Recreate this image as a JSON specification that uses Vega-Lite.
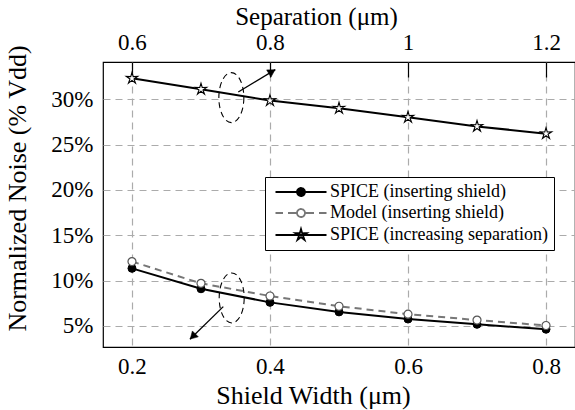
{
  "$schema": "https://vega.github.io/schema/vega-lite/v6.json",
  "width": 472,
  "height": 285,
  "autosize": {"type": "none"},
  "padding": {"left": 103, "top": 62, "right": 0, "bottom": 63},
  "config": {
    "font": "Liberation Serif",
    "view": {"stroke": "black", "strokeWidth": 1.2},
    "axis": {
      "labelFont": "Liberation Serif", "titleFont": "Liberation Serif",
      "labelFontSize": 23, "titleFontSize": 26, "titleFontWeight": "normal",
      "labelColor": "black", "titleColor": "black", "domain": false,
      "gridColor": "#ababab", "gridDash": [7, 5], "gridWidth": 1.2, "gridOpacity": 1
    }
  },
  "datasets": {
    "shield": [
      {"w": 0.2, "y": 11.35, "s": "SPICE (inserting shield)"},
      {"w": 0.3, "y": 9.1, "s": "SPICE (inserting shield)"},
      {"w": 0.4, "y": 7.6, "s": "SPICE (inserting shield)"},
      {"w": 0.5, "y": 6.55, "s": "SPICE (inserting shield)"},
      {"w": 0.6, "y": 5.76, "s": "SPICE (inserting shield)"},
      {"w": 0.7, "y": 5.18, "s": "SPICE (inserting shield)"},
      {"w": 0.8, "y": 4.64, "s": "SPICE (inserting shield)"},
      {"w": 0.2, "y": 12.1, "s": "Model (inserting shield)"},
      {"w": 0.3, "y": 9.7, "s": "Model (inserting shield)"},
      {"w": 0.4, "y": 8.3, "s": "Model (inserting shield)"},
      {"w": 0.5, "y": 7.17, "s": "Model (inserting shield)"},
      {"w": 0.6, "y": 6.3, "s": "Model (inserting shield)"},
      {"w": 0.7, "y": 5.65, "s": "Model (inserting shield)"},
      {"w": 0.8, "y": 5.05, "s": "Model (inserting shield)"}
    ],
    "sep": [
      {"sep": 0.6, "y": 32.3, "s": "SPICE (increasing separation)"},
      {"sep": 0.7, "y": 31.1, "s": "SPICE (increasing separation)"},
      {"sep": 0.8, "y": 29.85, "s": "SPICE (increasing separation)"},
      {"sep": 0.9, "y": 29.0, "s": "SPICE (increasing separation)"},
      {"sep": 1.0, "y": 28.0, "s": "SPICE (increasing separation)"},
      {"sep": 1.1, "y": 27.0, "s": "SPICE (increasing separation)"},
      {"sep": 1.2, "y": 26.2, "s": "SPICE (increasing separation)"}
    ],
    "ellipseA": [{"w": 0.3445, "y": 8.09}],
    "arrowA": [{"w": 0.3323, "y": 7.13, "w2": 0.284, "y2": 3.53}],
    "headA": [{"w": 0.2881, "y": 3.84}],
    "ellipseB": [{"sep": 0.744, "y": 30.17}],
    "arrowB": [{"sep": 0.754, "y": 30.79, "sep2": 0.8077, "y2": 33.26}],
    "headB": [{"sep": 0.8028, "y": 33.04}]
  },
  "encoding": {
    "y": {
      "field": "y", "type": "quantitative",
      "scale": {"domain": [2.68, 34.1], "nice": false, "zero": false},
      "axis": {
        "values": [5, 10, 15, 20, 25, 30],
        "labelExpr": "datum.value + '%'",
        "labelFont": "Liberation Serif", "titleFont": "Liberation Serif",
        "labelFontSize": 23, "titleFontSize": 26, "titleFontWeight": "normal",
        "ticks": false, "labelPadding": 10, "grid": true,
        "title": "Normalized Noise (% Vdd)", "titlePadding": 20, "titleY": 126
      }
    }
  },
  "layer": [
    {
      "encoding": {
        "x": {
          "field": "w", "type": "quantitative",
          "scale": {"domain": [0.158, 0.842], "nice": false, "zero": false},
          "axis": {
            "orient": "bottom", "values": [0.2, 0.4, 0.6, 0.8], "format": ".1f",
            "labelFont": "Liberation Serif", "titleFont": "Liberation Serif",
            "labelFontSize": 23, "titleFontSize": 26, "titleFontWeight": "normal",
            "ticks": false, "labelPadding": 8, "grid": true,
            "title": "Shield Width (μm)", "titlePadding": 4, "titleX": 210
          }
        }
      },
      "layer": [
        {
          "data": {"name": "shield"},
          "transform": [{"filter": "datum.s == 'SPICE (inserting shield)'"}],
          "mark": {"type": "line", "strokeWidth": 2},
          "encoding": {
            "color": {
              "field": "s", "type": "nominal",
              "scale": {
                "domain": ["SPICE (inserting shield)", "Model (inserting shield)", "SPICE (increasing separation)"],
                "range": ["black", "#777777", "black"]
              },
              "legend": {
                "title": null, "orient": "none", "legendX": 162, "legendY": 115,
                "strokeColor": "black", "fillColor": "white", "padding": 6, "cornerRadius": 0,
                "labelFont": "Liberation Serif", "labelFontSize": 18, "labelColor": "black", "labelLimit": 400,
                "symbolSize": 100, "symbolOffset": 21, "labelOffset": 20, "rowPadding": 3,
                "symbolStrokeWidth": 1.8,
                "encode": {
                  "symbols": {
                    "update": {
                      "shape": {"signal": "datum.value == 'SPICE (increasing separation)' ? 'M-5.1,0H5.1M0,-1.2L0.247,-0.34L1.141,-0.371L0.4,0.13L0.706,0.971L0,0.42L-0.706,0.971L-0.4,0.13L-1.141,-0.371L-0.247,-0.34Z' : datum.value == 'Model (inserting shield)' ? 'M-5.1,0H-3.6M-2.6,0H-0.8M0.8,0H2.6M3.6,0H5.1M0.8,0A0.8,0.8,0,1,1,-0.8,0A0.8,0.8,0,1,1,0.8,0Z' : 'M-5.1,0H5.1M0.8,0A0.8,0.8,0,1,1,-0.8,0A0.8,0.8,0,1,1,0.8,0Z'"},
                      "fill": {"signal": "datum.value == 'SPICE (inserting shield)' ? 'black' : datum.value == 'Model (inserting shield)' ? 'white' : 'transparent'"},
                      "stroke": {"signal": "datum.value == 'Model (inserting shield)' ? '#666666' : 'black'"},
                      "strokeDash": {"value": [1, 0]},
                      "opacity": {"value": 1}
                    }
                  }
                }
              }
            }
          }
        },
        {
          "data": {"name": "shield"},
          "transform": [{"filter": "datum.s == 'SPICE (inserting shield)'"}],
          "mark": {"type": "point", "shape": "circle", "size": 64, "filled": true, "fill": "black", "stroke": "black", "strokeWidth": 1, "opacity": 1}
        },
        {
          "data": {"name": "shield"},
          "transform": [{"filter": "datum.s == 'Model (inserting shield)'"}],
          "mark": {"type": "line", "strokeWidth": 2, "color": "#777777", "strokeDash": [7, 5]}
        },
        {
          "data": {"name": "shield"},
          "transform": [{"filter": "datum.s == 'Model (inserting shield)'"}],
          "mark": {"type": "point", "shape": "circle", "size": 64, "filled": true, "fill": "white", "stroke": "#555555", "strokeWidth": 1.2, "opacity": 1}
        },
        {
          "data": {"name": "ellipseA"},
          "mark": {"type": "point", "shape": "M1,0A1,2,0,1,1,-1,0A1,2,0,1,1,1,0Z", "size": 625, "filled": false, "stroke": "black", "strokeWidth": 1.1, "strokeDash": [6, 4], "opacity": 1}
        },
        {
          "data": {"name": "arrowA"},
          "mark": {"type": "rule", "color": "black", "strokeWidth": 1.3},
          "encoding": {
            "x2": {"field": "w2"},
            "y2": {"field": "y2"}
          }
        },
        {
          "data": {"name": "headA"},
          "mark": {"type": "point", "shape": "triangle-up", "size": 70, "filled": true, "fill": "black", "stroke": "black", "strokeWidth": 0.5, "angle": 225, "opacity": 1}
        }
      ]
    },
    {
      "encoding": {
        "x": {
          "field": "sep", "type": "quantitative",
          "scale": {"domain": [0.558, 1.242], "nice": false, "zero": false},
          "axis": {
            "orient": "top", "values": [0.6, 0.8, 1, 1.2], "format": "~g",
            "labelFont": "Liberation Serif", "titleFont": "Liberation Serif",
            "labelFontSize": 23, "titleFontSize": 25, "titleFontWeight": "normal",
            "ticks": true, "tickSize": -15, "tickColor": "black", "tickWidth": 1.2,
            "labelPadding": 23, "grid": false,
            "title": "Separation (μm)", "titlePadding": 2, "titleX": 213
          }
        }
      },
      "layer": [
        {
          "data": {"name": "sep"},
          "mark": {"type": "line", "strokeWidth": 2, "color": "black"}
        },
        {
          "data": {"name": "sep"},
          "mark": {"type": "point", "shape": "M0,-1L0.206,-0.283L0.951,-0.309L0.333,0.108L0.588,0.809L0,0.35L-0.588,0.809L-0.333,0.108L-0.951,-0.309L-0.206,-0.283Z", "size": 144, "filled": true, "fill": "white", "stroke": "black", "strokeWidth": 1.1, "opacity": 1}
        },
        {
          "data": {"name": "ellipseB"},
          "mark": {"type": "point", "shape": "M1,0A1,2,0,1,1,-1,0A1,2,0,1,1,1,0Z", "size": 625, "filled": false, "stroke": "black", "strokeWidth": 1.1, "strokeDash": [6, 4], "opacity": 1}
        },
        {
          "data": {"name": "arrowB"},
          "mark": {"type": "rule", "color": "black", "strokeWidth": 1.3},
          "encoding": {
            "x2": {"field": "sep2"},
            "y2": {"field": "y2"}
          }
        },
        {
          "data": {"name": "headB"},
          "mark": {"type": "point", "shape": "triangle-up", "size": 70, "filled": true, "fill": "black", "stroke": "black", "strokeWidth": 0.5, "angle": 59, "opacity": 1}
        }
      ]
    }
  ],
  "resolve": {"scale": {"x": "independent"}}
}
